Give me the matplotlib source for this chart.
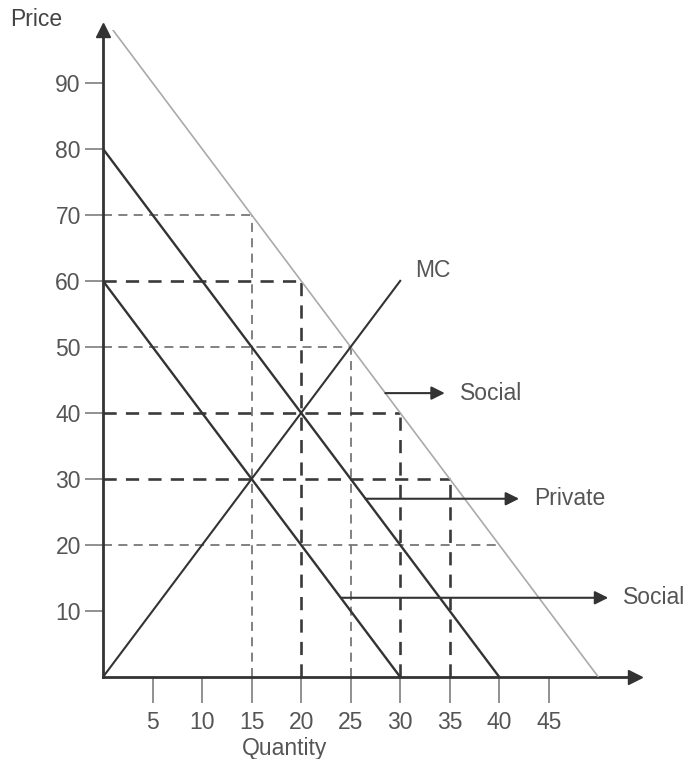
import matplotlib
matplotlib.use("Agg")
import matplotlib.pyplot as plt

plt.rcParams["font.family"] = ["Liberation Sans", "DejaVu Sans"]

# benefit / cost lines, end points as (quantity, price)
low_q = [0, 30]
low_p = [60, 0]
mid_q = [0, 40]
mid_p = [80, 0]
high_q = [0, 50]
high_p = [100, 0]
mc_q = [0, 30]
mc_p = [0, 60]

# dashed guide corners
guide_q = [15, 20, 25, 30, 35, 40]
guide_p = [70, 60, 50, 40, 30, 20]
guide_dark = [False, True, False, True, True, False]
guide_vert = [True, True, True, True, True, False]

# shift arrows: price level, start, end, label
arrow_p = [43, 27, 12]
arrow_q0 = [28.5, 26.5, 24]
arrow_q1 = [34.5, 42, 51]
arrow_labels = ["Social", "Private", "Social"]

x_ticks = [5, 10, 15, 20, 25, 30, 35, 40, 45]
y_ticks = [10, 20, 30, 40, 50, 60, 70, 80, 90]

W, H = 687, 759
fig = plt.figure(figsize=(W / 100, H / 100), dpi=100)
ax = fig.add_axes([103 / W, 82 / H, 532 / W, 647 / H])
ax.set_xlim(0, 53.7)
ax.set_ylim(0, 98)

dark = "#333333"
text_c = "#555555"
fs = 16.5

# dashed guides
for q, p, d, v in zip(guide_q, guide_p, guide_dark, guide_vert):
    c = "#3a3a3a" if d else "#777777"
    lw = 1.9 if d else 1.3
    ax.plot([0, q], [p, p], color=c, lw=lw, ls=(0, (5, 3.5)), zorder=2)
    if v:
        ax.plot([q, q], [0, p], color=c, lw=lw, ls=(0, (5, 3.5)), zorder=2)

ax.plot(high_q, high_p, color="#aaaaaa", lw=1.2, zorder=3)
ax.plot(mid_q, mid_p, color=dark, lw=1.7, zorder=3)
ax.plot(low_q, low_p, color=dark, lw=1.7, zorder=3)
ax.plot(mc_q, mc_p, color=dark, lw=1.5, zorder=3)
ax.text(mc_q[1] + 1.5, mc_p[1] + 1.5, "MC", fontsize=fs, color=text_c,
        ha="left", va="center")

for p, q0, q1, lab in zip(arrow_p, arrow_q0, arrow_q1, arrow_labels):
    ax.annotate("", xy=(q1, p), xytext=(q0, p),
                arrowprops=dict(arrowstyle="-|>", color=dark, lw=1.5,
                                mutation_scale=20, shrinkA=0, shrinkB=0),
                annotation_clip=False, zorder=4)
    ax.text(q1 + 1.5, p, lab, fontsize=fs, color=text_c, ha="left",
            va="center", clip_on=False)

for s in ["top", "right"]:
    ax.spines[s].set_visible(False)
for s in ["left", "bottom"]:
    ax.spines[s].set_color(dark)
    ax.spines[s].set_linewidth(2)
ax.plot(1, 0, ">", color=dark, ms=10, transform=ax.get_yaxis_transform(),
        clip_on=False)
ax.plot(0, 1, "^", color=dark, ms=10, transform=ax.get_xaxis_transform(),
        clip_on=False)

ax.set_xticks(x_ticks)
ax.set_yticks(y_ticks)
ax.tick_params(axis="y", length=13, width=1.3, color="#888888",
               labelsize=fs, labelcolor=text_c, pad=3)
ax.tick_params(axis="x", length=18.5, width=1.3, color="#888888",
               labelsize=fs, labelcolor=text_c, pad=6)

fig.text(10 / W, 1 - 20 / H, "Price", fontsize=fs, color="#444444",
         ha="left", va="center")
fig.text(285 / W, 1 - 748 / H, "Quantity", fontsize=fs, color=text_c,
         ha="center", va="center")

fig.savefig("out.png", dpi=100)
